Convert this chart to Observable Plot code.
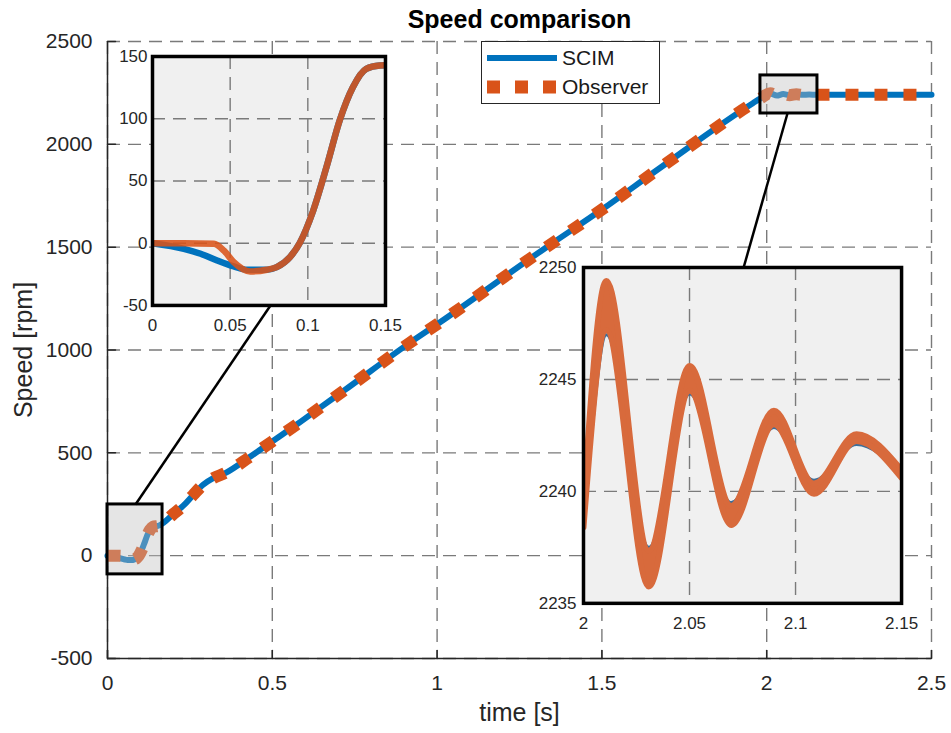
<!DOCTYPE html>
<html><head><meta charset="utf-8">
<script src="https://cdn.jsdelivr.net/npm/d3@7"></script>
<script src="https://cdn.jsdelivr.net/npm/@observablehq/plot@0.6"></script>
<style>
body{margin:0;background:#fff;}
#wrap{position:relative;width:951px;height:733px;overflow:hidden;background:#fff;}
.abs{position:absolute;}
</style></head><body><div id="wrap"></div>
<script>
// ---------------- data ----------------
const xTicksMain = [0, 0.5, 1, 1.5, 2, 2.5];
const yTicksMain = [-500, 0, 500, 1000, 1500, 2000, 2500];
const xTicksIn1 = [0, 0.05, 0.1, 0.15];
const yTicksIn1 = [-50, 0, 50, 100, 150];
const xTicksIn2 = [2, 2.05, 2.1, 2.15];
const yTicksIn2 = [2235, 2240, 2245, 2250];
const seriesNames = ["SCIM", "Observer"];

// start-up (0 .. 0.15 s)
const scimEarlyTime  = [0, 0.0202, 0.031, 0.0416, 0.0523, 0.0608, 0.0736, 0.080, 0.0885, 0.0949, 0.1035, 0.112, 0.1205, 0.129, 0.1376, 0.1462, 0.15];
const scimEarlySpeed = [0, -4.5, -8.5, -13.9, -18.7, -21.3, -21.3, -19.2, -11.2, 0.4, 26.3, 61.1, 98.6, 125.3, 140.1, 142.8, 143];
const obsEarlyTime   = [0, 0.02, 0.0395, 0.046, 0.0523, 0.0629, 0.0736, 0.080, 0.0885, 0.0949, 0.1035, 0.112, 0.1205, 0.129, 0.1376, 0.1462, 0.15];
const obsEarlySpeed  = [0, 0, -0.5, -6, -15.2, -22.7, -21.3, -19.2, -11.2, 0.4, 26.3, 61.1, 98.6, 125.3, 140.1, 142.8, 143];

// acceleration ramp (shared by both signals)
const rampTime  = [0.17, 0.2, 0.23, 0.26, 0.29, 0.32, 0.36, 0.43, 0.5, 0.575, 0.645, 0.716, 0.918, 1.0, 1.332, 1.5, 1.676, 1.958, 1.98];
const rampSpeed = [160, 203, 243, 295, 345, 376, 404, 478, 556, 639, 720, 801, 1036, 1125, 1500, 1683, 1885, 2200, 2222];

// settling (2.0 .. 2.15 s)
const settleTime    = [2.0, 2.0108, 2.0308, 2.0501, 2.0697, 2.0898, 2.1087, 2.1288, 2.15];
const settleScim    = [2238.9, 2247.0, 2237.5, 2244.35, 2239.5, 2242.85, 2240.5, 2242.1, 2240.8];
const settleObsHigh = [2239.4, 2249.4, 2237.35, 2245.6, 2239.35, 2243.6, 2240.35, 2242.55, 2240.95];
const settleObsLow  = [2238.4, 2247.2, 2235.75, 2244.5, 2238.5, 2243.0, 2239.9, 2242.25, 2240.6];

// steady state
const tailTime  = [2.2, 2.3, 2.4, 2.5];
const tailSpeed = [2241, 2240.8, 2240.8, 2240.8];

// zoomed regions, inset placement and connector lines (main-axis units)
const zoomRegions = [
  {t1: 0, t2: 0.167, v1: -91, v2: 249},
  {t1: 1.981, t2: 2.154, v1: 2150, v2: 2335}
];
const insetBoxes = [
  {t1: 0.1365, t2: 0.8434, v1: 1216.5, v2: 2427},
  {t1: 1.444, t2: 2.409, v1: -232, v2: 1401}
];
const connectors = [
  {t1: 0.4945, v1: 1216.5, t2: 0.085, v2: 249},
  {t1: 2.063, v1: 2150, t2: 1.93, v2: 1401}
];

// ---------------- build tables ----------------
const zip = (T, V) => T.map((t, i) => ({t, v: V[i]}));
const settleMid = settleObsHigh.map((h, i) => (h + settleObsLow[i]) / 2);
const scimMain = [...zip(scimEarlyTime, scimEarlySpeed), ...zip(rampTime, rampSpeed), ...zip(settleTime.slice(1), settleScim.slice(1)), ...zip(tailTime, tailSpeed)];
const obsMain  = [...zip(obsEarlyTime, obsEarlySpeed), ...zip(rampTime, rampSpeed), ...zip(settleTime.slice(1), settleMid.slice(1)), ...zip(tailTime, tailSpeed)];
const scimIn1 = zip(scimEarlyTime, scimEarlySpeed);
const obsIn1 = zip(obsEarlyTime, obsEarlySpeed);
const rampBefore = zip(rampTime.slice(-2), rampSpeed.slice(-2));
const scimIn2 = [...rampBefore, ...zip(settleTime, settleScim)];
const band = settleTime.map((t, i) => ({t, lo: settleObsLow[i], hi: settleObsHigh[i]}));

// ---------------- styles ----------------
const FONT = "'Liberation Sans', Arial, Helvetica, sans-serif";
const BLUE = "#0072BD", ORANGE = "#D95319", AX = "#262626", GRID = "#7a7a7a";
const tickShape = {draw(ctx, l) { ctx.moveTo(0, 0); ctx.lineTo(0, -l); }};
const gridStyle = {stroke: GRID, strokeOpacity: 1, strokeWidth: 1.4, strokeDasharray: "13,8"};
const fmt = d => String(d);

const W = 951, H = 733;
const mainPlot = Plot.plot({
  width: W, height: H,
  marginLeft: 107, marginRight: 20, marginTop: 41, marginBottom: 75,
  style: {fontFamily: FONT, fontSize: "21px", color: AX, background: "white", overflow: "visible"},
  x: {domain: [0, 2.5], label: null},
  y: {domain: [-500, 2500], label: null},
  marks: [
    Plot.gridX(xTicksMain, gridStyle),
    Plot.gridY(yTicksMain, gridStyle),
    Plot.ruleX([0], {stroke: AX, strokeWidth: 1.5}),
    Plot.ruleY([-500], {stroke: AX, strokeWidth: 1.5}),
    Plot.vector(xTicksMain, {x: d => d, y: -500, length: 8, rotate: 0, anchor: "start", shape: tickShape, stroke: AX, strokeWidth: 1.5}),
    Plot.vector(yTicksMain, {x: 0, y: d => d, length: 8, rotate: 90, anchor: "start", shape: tickShape, stroke: AX, strokeWidth: 1.5}),
    Plot.line(scimMain, {x: "t", y: "v", stroke: BLUE, strokeWidth: 6, curve: "monotone-x"}),
    Plot.line(obsMain, {x: "t", y: "v", stroke: ORANGE, strokeWidth: 12, strokeDasharray: "13,16", strokeLinecap: "butt", curve: "monotone-x"}),
    Plot.rect(zoomRegions, {x1: "t1", x2: "t2", y1: "v1", y2: "v2", fill: "#bdbdbd", fillOpacity: 0.4, stroke: "black", strokeWidth: 3}),
    Plot.link(connectors, {x1: "t1", y1: "v1", x2: "t2", y2: "v2", stroke: "black", strokeWidth: 2.5}),
    Plot.axisX(xTicksMain, {tickSize: 0, tickPadding: 17, tickFormat: fmt}),
    Plot.axisY(yTicksMain, {tickSize: 0, tickPadding: 15, tickFormat: fmt}),
    Plot.text(["Speed comparison"], {text: d => d, frameAnchor: "top", dy: -22, fontSize: 25, fontWeight: "bold", fill: "black", lineAnchor: "middle"}),
    Plot.text(["time [s]"], {text: d => d, frameAnchor: "bottom", dy: 54, fontSize: 25, fill: AX, lineAnchor: "middle"}),
    Plot.text(["Speed [rpm]"], {text: d => d, frameAnchor: "left", dx: -84, rotate: -90, fontSize: 25, fill: AX, lineAnchor: "middle", textAnchor: "middle"})
  ]
});
const wrap = document.getElementById("wrap");
wrap.appendChild(mainPlot);

const sx = mainPlot.scale("x"), sy = mainPlot.scale("y");
function lin(s) {
  if (s.apply) return v => s.apply(v);
  const [d0, d1] = s.domain, [r0, r1] = s.range;
  return v => r0 + (v - d0) / (d1 - d0) * (r1 - r0);
}
const X = lin(sx), Y = lin(sy);

function placeInset(box, plotFn) {
  const px1 = X(box.t1), px2 = X(box.t2), py1 = Y(box.v2), py2 = Y(box.v1);
  const m = {l: 60, r: 30, t: 14, b: 40};
  const el = plotFn(px2 - px1, py2 - py1, m);
  const div = document.createElement("div");
  div.className = "abs";
  div.style.left = (px1 - m.l) + "px";
  div.style.top = (py1 - m.t) + "px";
  div.appendChild(el);
  wrap.appendChild(div);
}

const insetStyle = {fontFamily: FONT, fontSize: "17px", color: AX, background: "transparent", overflow: "visible"};

placeInset(insetBoxes[0], (w, h, m) => Plot.plot({
  width: w + m.l + m.r, height: h + m.t + m.b,
  marginLeft: m.l, marginRight: m.r, marginTop: m.t, marginBottom: m.b,
  style: insetStyle,
  x: {domain: [0, 0.15], label: null},
  y: {domain: [-50, 150], label: null},
  marks: [
    Plot.frame({fill: "#f0f0f0", stroke: null}),
    Plot.gridX(xTicksIn1, gridStyle),
    Plot.gridY(yTicksIn1, gridStyle),
    Plot.line(scimIn1, {x: "t", y: "v", stroke: BLUE, strokeWidth: 6.5, curve: "monotone-x", clip: true}),
    Plot.line(obsIn1, {x: "t", y: "v", stroke: ORANGE, strokeOpacity: 0.88, strokeWidth: 6.5, curve: "monotone-x", clip: true}),
    Plot.frame({stroke: "black", strokeWidth: 3.5}),
    Plot.axisX(xTicksIn1, {tickSize: 0, tickPadding: 13, tickFormat: fmt}),
    Plot.axisY(yTicksIn1, {tickSize: 0, tickPadding: 5, tickFormat: fmt})
  ]
}));

placeInset(insetBoxes[1], (w, h, m) => Plot.plot({
  width: w + m.l + m.r, height: h + m.t + m.b,
  marginLeft: m.l, marginRight: m.r, marginTop: m.t, marginBottom: m.b,
  style: insetStyle,
  x: {domain: [2, 2.15], label: null},
  y: {domain: [2235, 2250], label: null},
  marks: [
    Plot.frame({fill: "#f0f0f0", stroke: null}),
    Plot.gridX(xTicksIn2, gridStyle),
    Plot.gridY(yTicksIn2, gridStyle),
    Plot.line(scimIn2, {x: "t", y: "v", stroke: "#3b6e9a", strokeWidth: 3, curve: "monotone-x", clip: true}),
    Plot.areaY(band, {x: "t", y1: "lo", y2: "hi", fill: "#d86a3c", curve: "monotone-x", clip: true}),
    Plot.line(band, {x: "t", y: "hi", stroke: "#d86a3c", strokeWidth: 6, curve: "monotone-x", clip: true}),
    Plot.line(band, {x: "t", y: "lo", stroke: "#d86a3c", strokeWidth: 6, curve: "monotone-x", clip: true}),
    Plot.frame({stroke: "black", strokeWidth: 3.5}),
    Plot.axisX(xTicksIn2, {tickSize: 0, tickPadding: 14, tickFormat: fmt}),
    Plot.axisY(yTicksIn2, {tickSize: 0, tickPadding: 7, tickFormat: fmt})
  ]
}));

// ---------------- legend ----------------
const lg = d3.select(wrap).append("svg").attr("class", "abs")
  .style("left", "481px").style("top", "41px")
  .attr("width", 179).attr("height", 63)
  .style("font-family", FONT).style("font-size", "21px");
lg.append("rect").attr("x", 0.5).attr("y", 0.5).attr("width", 178).attr("height", 62)
  .attr("fill", "white").attr("stroke", AX).attr("stroke-width", 1);
const legendRows = [
  {name: seriesNames[0], color: BLUE, w: 6, dash: null},
  {name: seriesNames[1], color: ORANGE, w: 13, dash: "13,15"}
];
legendRows.forEach((r, i) => {
  const yy = 17 + i * 29;
  lg.append("line").attr("x1", 6).attr("x2", 76).attr("y1", yy).attr("y2", yy)
    .attr("stroke", r.color).attr("stroke-width", r.w).attr("stroke-dasharray", r.dash);
  lg.append("text").attr("x", 81).attr("y", yy).attr("dy", "0.35em").attr("fill", "#1a1a1a").text(r.name);
});
</script></body></html>
